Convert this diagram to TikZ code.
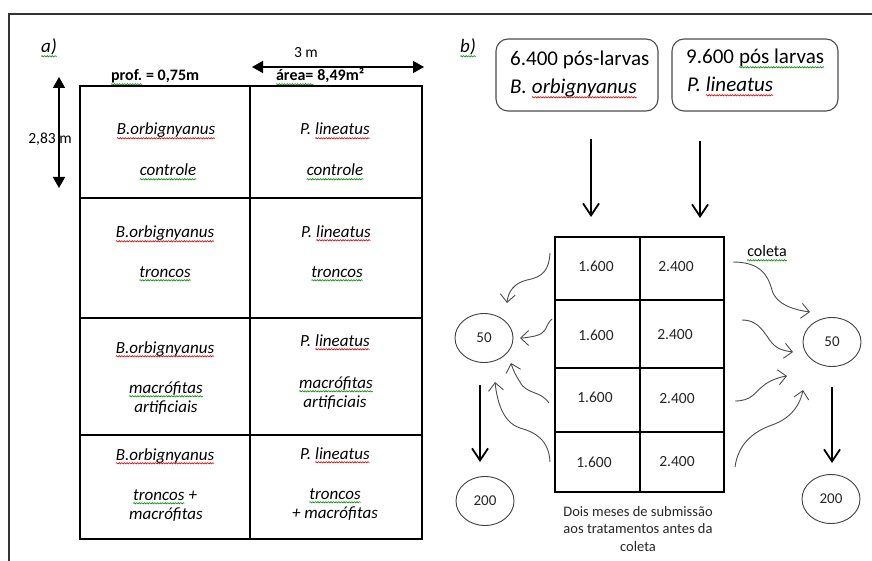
\documentclass[tikz,border=0pt]{standalone}
\usepackage{fontspec}
\setmainfont{Carlito}
\usetikzlibrary{arrows.meta,decorations.pathmorphing,shapes.geometric}

% word with a spell-check style wavy underline
\newcommand\wavyline[2]{\tikz[baseline=(w.base),x=1pt,y=1pt]{%
  \node[draw=none,fill=none,inner sep=0pt,outer sep=0pt,anchor=base](w){#2};%
  \draw[draw=#1,line width=0.6pt,decorate,decoration={snake,amplitude=0.65pt,segment length=2.6pt}]
    ([yshift=-3.3pt]w.base west)--([yshift=-3.3pt]w.base east);}}
\newcommand\sqred[1]{\wavyline{red!85!black}{#1}}
\newcommand\sqgrn[1]{\wavyline{green!55!black}{#1}}

\begin{document}
\begin{tikzpicture}[x=1pt,y=-1pt,
  frame/.style={line width=2pt,draw=black!80},
  grid/.style={line width=2pt,draw=black},
  lbl/.style={anchor=base,inner sep=0pt,font=\fontsize{17}{20}\selectfont\itshape},
  hdr/.style={anchor=base,inner sep=0pt,font=\fontsize{16}{19}\selectfont\bfseries},
  plain/.style={anchor=base,inner sep=0pt,font=\fontsize{15.5}{18}\selectfont},
  tag/.style={anchor=base,inner sep=0pt,font=\fontsize{19}{22}\selectfont\itshape},
  big/.style={anchor=base west,inner sep=0pt,font=\fontsize{21}{24}\selectfont},
  num/.style={anchor=base,inner sep=0pt,font=\fontsize{15.5}{18}\selectfont,text=black!85},
  captext/.style={anchor=base,inner sep=0pt,font=\fontsize{14.5}{17}\selectfont,text=black!85},
  dim/.style={line width=1.5pt,{Triangle[length=11pt,width=12pt]}-{Triangle[length=11pt,width=12pt]}},
  drop/.style={line width=1.8pt,-{Straight Barb[length=12pt,width=16pt,line width=1.8pt]}},
  flow/.style={line width=0.9pt,draw=black!70,-{Straight Barb[length=8pt,width=15pt,line width=0.9pt]}},
  circ/.style={ellipse,draw=black!75,line width=0.9pt,minimum width=58pt,minimum height=49pt,
    inner sep=0pt,font=\fontsize{15}{17}\selectfont,text=black!85},
  pbox/.style={draw=black!70,line width=1.1pt,rounded corners=12pt,minimum height=72pt}]

\useasboundingbox (0,0) rectangle (872,561);

% page frame
\draw[frame] (9,561) -- (9,14) -- (872,14);

% ---------------- a) tank layout ----------------
\node[tag] (ta) at (49,53) {\sqgrn{a)}};

\node[hdr] (prof) at (155,81) {\sqgrn{prof.} = 0,75m};
\node[hdr] (area) at (320,81) {\sqgrn{área=} 8,49m²};
\node[plain] (w3) at (306,58) {3 m};
\coordinate (hL) at (252,67);
\coordinate (hR) at (424,67);
\draw[dim] (hL) -- (hR);
\node[plain] (h283) at (50,144) {2,83 m};
\coordinate (vT) at (59,77);
\coordinate (vB) at (59,188);
\draw[dim] (vT) -- (vB);

\draw[grid] (80,86) rectangle (422,539);
\draw[grid] (250,86) -- (250,539);
\draw[grid] (80,198) -- (422,198);
\draw[grid] (80,318) -- (422,318);
\draw[grid] (80,435) -- (422,435);

\node[lbl] (a1s) at (166,135) {\sqred{B.orbignyanus}};
\node[lbl] (a1t) at (168,176) {\sqgrn{controle}};
\node[lbl] (b1s) at (335,135) {P. \sqred{lineatus}};
\node[lbl] (b1t) at (335,176) {\sqgrn{controle}};

\node[lbl] (a2s) at (165,238) {\sqred{B.orbignyanus}};
\node[lbl] (a2t) at (165,277) {\sqgrn{troncos}};
\node[lbl] (b2s) at (336,237) {P. \sqred{lineatus}};
\node[lbl] (b2t) at (337,277) {\sqgrn{troncos}};

\node[lbl] (a3s) at (165,353) {\sqred{B.orbignyanus}};
\node[lbl] (a3t) at (166,393) {\sqgrn{macrófitas}};
\node[lbl] (a3u) at (166,412) {artificiais};
\node[lbl] (b3s) at (335,346) {P. \sqred{lineatus}};
\node[lbl] (b3t) at (336,388) {\sqgrn{macrófitas}};
\node[lbl] (b3u) at (335,407) {artificiais};

\node[lbl] (a4s) at (165,460) {\sqred{B.orbignyanus}};
\node[lbl] (a4t) at (165,500) {\sqgrn{troncos} +};
\node[lbl] (a4u) at (166,519) {macrófitas};
\node[lbl] (b4s) at (335,459) {P. \sqred{lineatus}};
\node[lbl] (b4t) at (335,499) {\sqgrn{troncos}};
\node[lbl] (b4u) at (335,518) {+ macrófitas};

% ---------------- b) stocking and sampling ----------------
\node[tag] (tb) at (468,53) {\sqgrn{b)}};

\node[pbox,minimum width=162pt] (boxB) at (577,75) {};
\node[pbox,minimum width=166pt] (boxP) at (755,75) {};
\node[big] (nB) at (510,66) {6.400 pós-larvas};
\node[big,font=\fontsize{21}{24}\selectfont\itshape] (sB) at (510,94) {B. \sqred{orbignyanus}};
\node[big] (nP) at (686,64) {9.600 \sqgrn{pós larvas}};
\node[big,font=\fontsize{21}{24}\selectfont\itshape] (sP) at (687,92) {P. \sqred{lineatus}};

\coordinate (d1s) at (591,139);
\coordinate (d1e) at (591,217);
\coordinate (d2s) at (700,141);
\coordinate (d2e) at (700,218);
\draw[drop] (d1s) -- (d1e);
\draw[drop] (d2s) -- (d2e);

\draw[grid] (555,237) rectangle (724,492);
\draw[grid] (640,237) -- (640,492);
\draw[grid] (555,300) -- (724,300);
\draw[grid] (555,368) -- (724,368);
\draw[grid] (555,432) -- (724,432);

\node[num] (c11) at (596,272) {1.600};
\node[num] (c12) at (676,271) {2.400};
\node[num] (c21) at (596,340) {1.600};
\node[num] (c22) at (675,339) {2.400};
\node[num] (c31) at (595,402) {1.600};
\node[num] (c32) at (677,403) {2.400};
\node[num] (c41) at (594,467) {1.600};
\node[num] (c42) at (677,466) {2.400};

\node[captext] (cap1) at (638,516) {Dois meses de submissão};
\node[captext] (cap2) at (638,533) {aos tratamentos antes da};
\node[captext] (cap3) at (638,551) {coleta};

\node[plain,font=\fontsize{16}{18}\selectfont] (col) at (767,257) {\sqgrn{coleta}};

\node[circ] (L50) at (484,338) {50};
\node[circ] (L200) at (485,501) {200};
\node[circ] (R50) at (832,342) {50};
\node[circ] (R200) at (831,499) {200};

\coordinate (ldS) at (480,385);
\coordinate (ldE) at (480,462);
\coordinate (rdS) at (832,387);
\coordinate (rdE) at (832,463);
\draw[drop] (ldS) -- (ldE);
\draw[drop] (rdS) -- (rdE);

% sampled fish leaving the pens, left side
\coordinate (l1s) at (550,253); \coordinate (l1e) at (507,303);
\coordinate (l2s) at (552,319); \coordinate (l2e) at (520,338);
\coordinate (l3s) at (549,403); \coordinate (l3e) at (511,363);
\coordinate (l4s) at (550,462); \coordinate (l4e) at (495,382);
\draw[flow] (l1s) .. controls (549,270) and (543,277) .. (527,280) .. controls (514,283) and (508,292) .. (l1e);
\draw[flow] (l2s) .. controls (545,325) and (548,333) .. (535,336) .. controls (530,337) and (525,338) .. (l2e);
\draw[flow] (l3s) .. controls (540,390) and (527,395) .. (520,382) .. controls (516,376) and (513,370) .. (l3e);
\draw[flow] (l4s) .. controls (549,440) and (535,432) .. (520,428) .. controls (502,422) and (497,400) .. (l4e);

% sampled fish leaving the pens, right side
\coordinate (r1s) at (733,262); \coordinate (r1e) at (810,312);
\coordinate (r2s) at (742,320); \coordinate (r2e) at (793,352);
\coordinate (r3s) at (735,401); \coordinate (r3e) at (787,376);
\coordinate (r4s) at (735,467); \coordinate (r4e) at (803,390);
\draw[flow] (r1s) .. controls (760,262) and (768,275) .. (772,290) .. controls (776,305) and (795,310) .. (r1e);
\draw[flow] (r2s) .. controls (760,320) and (765,335) .. (772,343) .. controls (778,350) and (786,351) .. (r2e);
\draw[flow] (r3s) .. controls (752,401) and (755,392) .. (763,386) .. controls (770,380) and (780,377) .. (r3e);
\draw[flow] (r4s) .. controls (738,445) and (752,432) .. (772,425) .. controls (795,417) and (801,400) .. (r4e);

\end{tikzpicture}
\end{document}
